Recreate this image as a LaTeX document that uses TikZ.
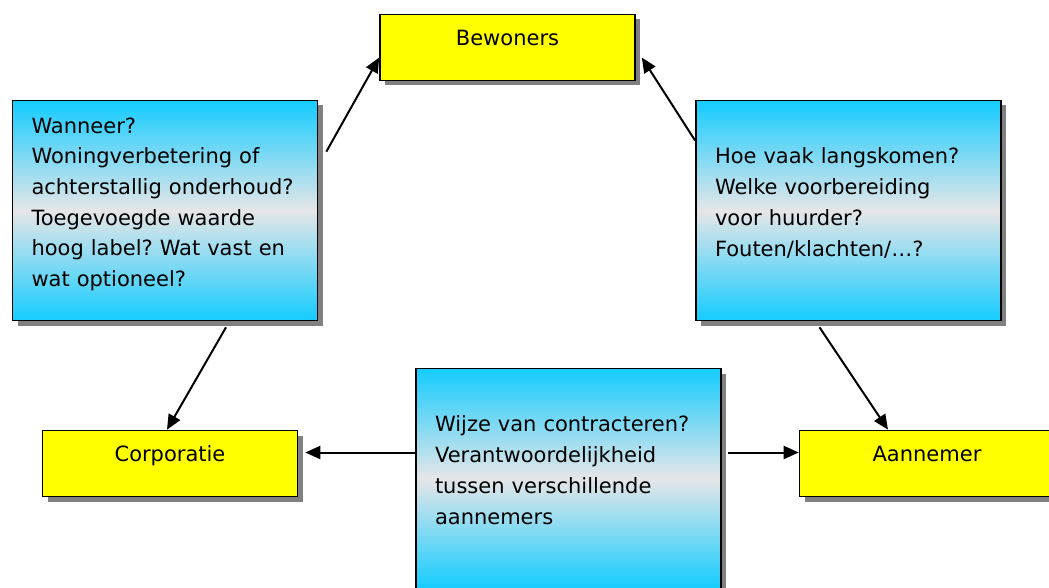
\documentclass[tikz,border=0pt]{standalone}
\usepackage{fontspec}
\setmainfont{DejaVu Sans}
\usepackage{xcolor}
\usepackage{tikz}
\usetikzlibrary{arrows.meta}
\usetikzlibrary{calc}
\usetikzlibrary{shadows}
\frenchspacing
\definecolor{boxyellow}{RGB}{255,255,0}
\definecolor{skyblue}{RGB}{20,204,255}
\definecolor{palegrey}{RGB}{230,230,232}
\definecolor{shadowgrey}{RGB}{128,128,128}
\tikzstyle{actor} = [draw, line width=1.6pt,
	fill=boxyellow,
	minimum width=255pt,
	minimum height=66pt,
	text height=15pt, text depth=19pt,
	drop shadow={shadow xshift=5pt, shadow yshift=-5pt, fill=shadowgrey, opacity=1}]
\tikzstyle{question} = [draw, line width=1.6pt,
	top color=skyblue, bottom color=skyblue, middle color=palegrey,
	minimum width=305pt,
	minimum height=220pt,
	text width=267pt, inner xsep=19pt, align=left,
	execute at end node={\rule[-17pt]{0pt}{17pt}},
	drop shadow={shadow xshift=5pt, shadow yshift=-5pt, fill=shadowgrey, opacity=1}]
\tikzstyle{arrow} = [-{Triangle[length=15pt, width=13pt]}, line width=2pt]

\begin{document}
\begin{tikzpicture}[x=1pt, y=-1pt, font=\fontsize{21pt}{30.7pt}\selectfont]
			\useasboundingbox (0,0) rectangle (1049,588);
			
			\node (bew) [actor] at (507.5, 47.5) {Bewoners};
			\node (corp) [actor] at (170, 463.5) {Corporatie};
			\node (ann) [actor] at (927, 463.5) {Aannemer};
			
			\node (lq) [question] at (165, 210.5) {Wanneer?\\ Woningverbetering of\\ achterstallig onderhoud?\\ Toegevoegde waarde\\ hoog label? Wat vast en\\ wat optioneel?};
			\node (rq) [question] at (848.5, 210.5) {Hoe vaak langskomen?\\ Welke voorbereiding\\ voor huurder?\\ Fouten/klachten/…?};
			\node (bq) [question] at (568.5, 478.5) {Wijze van contracteren?\\ Verantwoordelijkheid\\ tussen verschillende\\ aannemers};
			
			\draw [arrow] ($ (lq.north east) + (8, 52) $) -- ($ (bew.west) + (0, 10) $);
			\draw [arrow] ($ (rq.north west) + (0, 41) $) -- ($ (bew.east) + (6, 10) $);
			\draw [arrow] ($ (lq.south) + (61, 6) $) -- ($ (corp.north) + (-3, 0) $);
			\draw [arrow] ($ (rq.south) + (-29, 6) $) -- ($ (ann.north) + (-39, 0) $);
			
			\coordinate (lt) at ($ (corp.east) + (7, -11) $);
			\draw [arrow] (bq.west |- lt) -- (lt);
			\draw [arrow] ($ (bq.east |- lt) + (6, 0) $) -- (ann.west |- lt);
			
		\end{tikzpicture}
\end{document}
